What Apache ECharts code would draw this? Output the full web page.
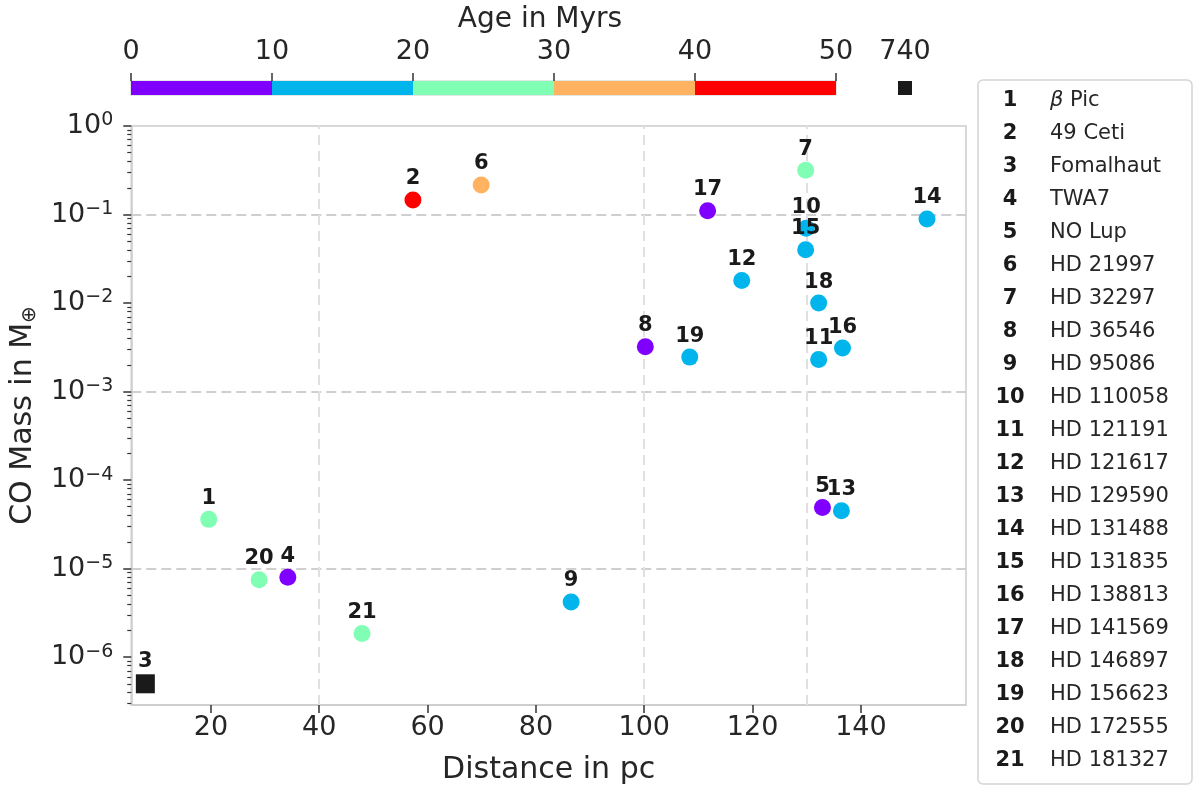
<!DOCTYPE html>
<html>
<head>
<meta charset="utf-8">
<script src="https://cdn.jsdelivr.net/npm/echarts@6/dist/echarts.min.js"></script>
<style>
    *{ margin: 0; padding: 0; }
    body{ background: #fff; }
    #chart{ width: 1200px; height: 792px; }
</style>
</head>
<body>
<div id="chart"></div>
<script>
// legend order = label number (1..21)
const names = ['β Pic', '49 Ceti', 'Fomalhaut', 'TWA7', 'NO Lup', 'HD 21997', 'HD 32297', 'HD 36546',
    'HD 95086', 'HD 110058', 'HD 121191', 'HD 121617', 'HD 129590', 'HD 131488', 'HD 131835',
    'HD 138813', 'HD 141569', 'HD 146897', 'HD 156623', 'HD 172555', 'HD 181327'];
const distance = [19.6, 57.3, 7.9, 34.2, 132.9, 69.9, 129.8, 100.2, 86.5, 129.9, 132.2,
    118.0, 136.4, 152.2, 129.8, 136.6, 111.7, 132.2, 108.4, 28.9, 47.9];
const coMass = [3.6e-5, 0.146, 5.0e-7, 8.0e-6, 4.9e-5, 0.216, 0.316, 3.2e-3, 4.2e-6, 0.070, 2.3e-3,
    1.8e-2, 4.5e-5, 0.089, 0.040, 3.1e-3, 0.110, 1.0e-2, 2.45e-3, 7.5e-6, 1.85e-6];
const age = [23, 44, 740, 7.5, 2, 35, 25, 5, 17, 17, 16, 16, 16, 16, 16, 11, 5, 11, 16, 23, 23];

// colour bar
const ageEdges = [0, 10, 20, 30, 40, 50];
const binColors = ['#8000ff', '#00b5eb', '#80ffb4', '#ffb360', '#ff0000'];
const oldAgeLabel = ['740'];
const oldColor = '#1a1a1a';

// axes
const xTicks = [20, 40, 60, 80, 100, 120, 140];
const xGrid = [40, 100, 130];
const yMajor = [1e-6, 1e-5, 1e-4, 1e-3, 1e-2, 1e-1, 1];
const yGrid = [1e-5, 1e-3, 1e-1];
const xMin = 5.3, xMax = 159.4, yMin = 2.88e-7, yMax = 1;

const FONT = 'DejaVu Sans';
const TXT = '#262626';

let yMinor = [];
for (let e = -7; e < 0; e++) {
    for (let m = 2; m <= 9; m++) {
        let v = +(m * Math.pow(10, e)).toPrecision(2);
        if (v >= yMin && v < yMax) yMinor.push(v);
    }
}

function ageColor(a) {
    for (let i = 0; i < binColors.length; i++) {
        if (a >= ageEdges[i] && a < ageEdges[i + 1]) return binColors[i];
    }
    return null;
}

let points = names.map(function (n, i) {
    let c = ageColor(age[i]);
    return {
        value: [distance[i], coMass[i], i + 1],
        symbol: c ? 'circle' : 'rect',
        symbolSize: c ? 17 : 19,
        itemStyle: { color: c || oldColor, opacity: 1 }
    };
});

// legend box: number column + name column
let legendNums = names.map(function (n, i) { return String(i + 1); }).join('\n');
let legendNames = names.map(function (n) {
    if (n.indexOf('β') === 0) return '{it|β}{t|' + n.slice(1) + '}';
    return '{t|' + n + '}';
}).join('\n');

function supLabel(v) {
    let e = Math.round(Math.log10(v));
    return '{b|10}{s|' + (e < 0 ? '\u2212' + (-e) : String(e)) + '}';
}

let barSeries = binColors.map(function (c, i) {
    return {
        type: 'bar', xAxisIndex: 1, yAxisIndex: 3, stack: 'cb', silent: true,
        barWidth: '100%', data: [ageEdges[i + 1] - ageEdges[i]],
        itemStyle: { color: c }
    };
});

let chart = echarts.init(document.getElementById('chart'));
let option = {
    animation: false,
    textStyle: { fontFamily: FONT },
    graphic: [{
        type: 'text', x: 540, y: 6,
        style: { text: 'Age in Myrs', font: '28px "DejaVu Sans"', fill: TXT, textAlign: 'center' }
    }, {
        type: 'rect', shape: { x: 978, y: 80, width: 214, height: 704, r: 5 },
        style: { fill: '#fff', stroke: '#d4d4d4', lineWidth: 1.5 }
    }, {
        type: 'text', x: 1010, y: 84,
        style: {
            text: legendNums, font: 'bold 21px "DejaVu Sans"', lineHeight: 33,
            textAlign: 'center', fill: '#1a1a1a'
        }
    }, {
        type: 'text', x: 1050, y: 84,
        style: {
            text: legendNames, font: '21px "DejaVu Sans"', lineHeight: 33, fill: TXT,
            rich: {
                t: { fontFamily: FONT, fontSize: 21, lineHeight: 33, fill: TXT },
                it: { fontFamily: FONT, fontSize: 21, fontStyle: 'italic', lineHeight: 33, fill: TXT }
            }
        }
    }],
    grid: [
        { left: 131, top: 126, width: 835, height: 579, show: true, borderColor: '#cccccc', borderWidth: 1.5 },
        { left: 131, top: 81, width: 705, height: 14, show: true, borderColor: '#cccccc', borderWidth: 1 },
        { left: 898, top: 81, width: 14, height: 14 }
    ],
    xAxis: [{
        gridIndex: 0, type: 'value', min: xMin, max: xMax,
        name: 'Distance in pc', nameLocation: 'middle', nameGap: 50,
        nameTextStyle: { fontSize: 30, color: TXT, fontFamily: FONT },
        axisLine: { lineStyle: { color: '#cccccc', width: 1.5 } },
        axisTick: { show: true, length: 8, lineStyle: { color: '#333', width: 1.5 }, customValues: xTicks },
        axisLabel: { fontSize: 27, color: TXT, margin: 9, customValues: xTicks },
        splitLine: { show: false }
    }, {
        gridIndex: 1, type: 'value', min: 0, max: 50, interval: 10, position: 'top',
        axisLine: { show: false },
        axisTick: { show: true, length: 8, lineStyle: { color: '#333', width: 1.5 } },
        axisLabel: { fontSize: 27, color: TXT, margin: 16, showMinLabel: true, showMaxLabel: true },
        splitLine: { show: false }
    }, {
        gridIndex: 2, type: 'category', data: oldAgeLabel, position: 'top',
        axisLine: { show: false },
        axisTick: { show: true, alignWithLabel: true, length: 8, lineStyle: { color: '#333', width: 1.5 } },
        axisLabel: { fontSize: 27, color: TXT, margin: 16 }
    }],
    yAxis: [{
        gridIndex: 0, type: 'log', logBase: 10, min: yMin, max: yMax,
        name: '{a|CO Mass in M}{sub|\u2295}', nameLocation: 'middle', nameGap: 86, nameRotate: 90,
        nameTextStyle: {
            rich: {
                a: { fontSize: 30, color: TXT, fontFamily: FONT, lineHeight: 34 },
                sub: { fontSize: 20, color: TXT, fontFamily: FONT, verticalAlign: 'bottom', lineHeight: 26 }
            }
        },
        axisLine: { lineStyle: { color: '#cccccc', width: 1.5 } },
        axisTick: { show: true, length: 8, lineStyle: { color: '#333', width: 1.5 }, customValues: yMajor },
        axisLabel: {
            margin: 18, customValues: yMajor, formatter: supLabel,
            rich: {
                b: { fontSize: 27, color: TXT, fontFamily: FONT, lineHeight: 30 },
                s: { fontSize: 19, color: TXT, fontFamily: FONT, verticalAlign: 'top', lineHeight: 14 }
            }
        },
        splitLine: { show: false }
    }, {
        // minor ticks
        gridIndex: 0, type: 'log', logBase: 10, min: yMin, max: yMax, position: 'left',
        axisLine: { show: false },
        axisTick: { show: true, length: 4, lineStyle: { color: '#333', width: 1.2 }, customValues: yMinor },
        axisLabel: { show: false },
        splitLine: { show: false }
    }, {
        // dashed horizontal grid every other decade
        gridIndex: 0, type: 'log', logBase: 10, min: yMin, max: yMax, position: 'left',
        axisLine: { show: false },
        axisTick: { show: false, customValues: yGrid },
        axisLabel: { show: false, customValues: yGrid },
        splitLine: { show: true, lineStyle: { color: '#cfcfcf', width: 2, type: [10, 5] } }
    }, {
        gridIndex: 1, type: 'category', data: ['bar'], show: false
    }, {
        gridIndex: 2, type: 'value', min: 0, max: 1, show: false
    }],
    series: [{
        type: 'scatter', xAxisIndex: 0, yAxisIndex: 0, z: 3,
        data: points,
        itemStyle: { opacity: 1 },
        label: {
            show: true, position: 'top', distance: 2,
            formatter: function (p) { return String(p.value[2]); },
            fontFamily: FONT, fontWeight: 'bold', fontSize: 21, color: '#1a1a1a'
        },
        markLine: {
            silent: true, symbol: 'none', z: 1, label: { show: false },
            data: xGrid.map(function (v) {
                return { xAxis: v, lineStyle: { color: '#e0e0e0', width: 2, type: [10, 6] } };
            })
        }
    }].concat(barSeries, [{
        type: 'bar', xAxisIndex: 2, yAxisIndex: 4, silent: true, barWidth: '100%',
        data: [1], itemStyle: { color: oldColor }
    }])
};
chart.setOption(option);
</script>
</body>
</html>
